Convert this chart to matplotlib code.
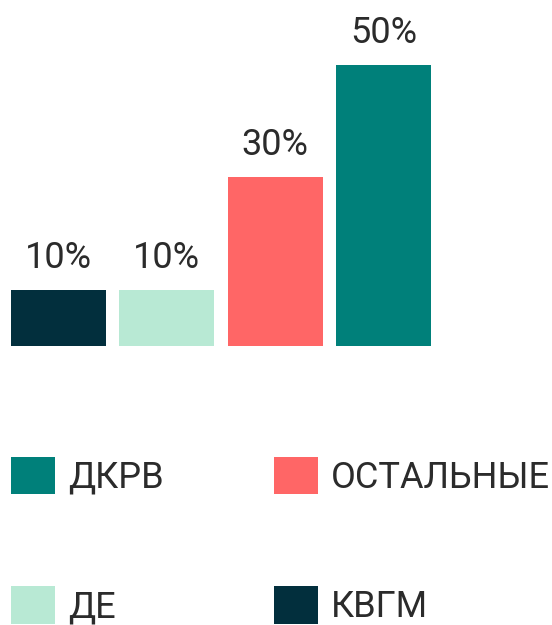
import matplotlib
matplotlib.use("Agg")
import matplotlib.pyplot as plt
from matplotlib.patches import Patch

plt.rcParams['font.family'] = ['Roboto', 'DejaVu Sans']

categories = ['КВГМ', 'ДЕ', 'ОСТАЛЬНЫЕ', 'ДКРВ']
values = [10, 10, 30, 50]
colors = ['#022F3D', '#B8E9D4', '#FF6666', '#00807A']
value_labels = ['10%', '10%', '30%', '50%']

legend_order = ['ДКРВ', 'ДЕ', 'ОСТАЛЬНЫЕ', 'КВГМ']

text_color = '#2B2B2B'
W, H = 552, 625
fig = plt.figure(figsize=(W / 100, H / 100), dpi=100)

# bars axes: baseline at 346px from top, spans up to the top edge
ax = fig.add_axes([0, (H - 346) / H, 1, 346 / H])
step = 108.3
x0 = 58.5
ax.set_xlim(-x0 / step, (W - x0) / step)
ax.set_ylim(0, 346 / 5.62)

xs = range(len(values))
ax.bar(xs, values, width=95 / step, color=colors, linewidth=0)
for x, v, lab in zip(xs, values, value_labels):
    ax.annotate(lab, (x, v), xytext=(0, 14), textcoords='offset pixels',
                ha='center', va='bottom', fontsize=26, color=text_color)
ax.axis('off')

color_of = dict(zip(categories, colors))
handles = [Patch(facecolor=color_of[c], edgecolor='none', label=c) for c in legend_order]
leg = fig.legend(handles=handles, ncol=2, loc='upper left',
                 bbox_to_anchor=(11 / W, 1 - 457 / H), frameon=False,
                 fontsize=26, handlelength=1.22, handleheight=1.22,
                 handletextpad=0.36, columnspacing=3.05, labelspacing=2.5,
                 borderpad=0, borderaxespad=0, labelcolor=text_color)

fig.savefig('out.png', dpi=100)
